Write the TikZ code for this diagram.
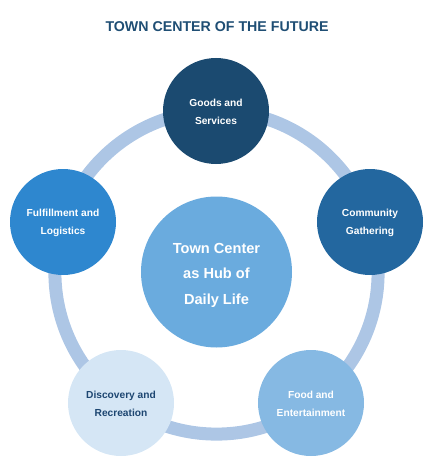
\documentclass[tikz,border=0pt]{standalone}
\usepackage{fontspec}
\setmainfont{Liberation Sans}
\definecolor{titleblue}{HTML}{1F4E74}
\definecolor{goodsc}{HTML}{1B4A70}
\definecolor{commc}{HTML}{23679F}
\definecolor{fulfc}{HTML}{2E87CF}
\definecolor{hubc}{HTML}{6AABDE}
\definecolor{foodc}{HTML}{86B9E3}
\definecolor{discc}{HTML}{D5E6F5}
\definecolor{ringc}{HTML}{ADC6E5}
\definecolor{disctext}{HTML}{1D4671}
\tikzset{
  bubble/.style={circle, minimum size=106pt, inner sep=0pt, align=center,
    text=white, font=\fontsize{10.2}{18}\selectfont\bfseries},
  bubbletext/.style={align=center, inner sep=0pt, text=white,
    font=\fontsize{10.2}{18}\selectfont\bfseries},
  hubbox/.style={circle, minimum size=151pt, inner sep=0pt, fill=hubc},
  hubtext/.style={align=center, inner sep=0pt, text=white,
    font=\fontsize{14.6}{25.5}\selectfont\bfseries},
  ringline/.style={draw=ringc, line width=13pt}
}
\begin{document}
\begin{tikzpicture}[x=1pt,y=-1pt]
\useasboundingbox (0,0) rectangle (433,468);
\node[text=titleblue, font=\fontsize{14.2}{16}\selectfont\bfseries] (title) at (217,26.5) {TOWN CENTER OF THE FUTURE};
\coordinate (rc) at (216.5,272.5);
\draw[ringline] (rc) circle (161.6pt);
\node[hubbox] (hub) at (216.5,272) {};
\node[hubtext] (hubt) at (216.5,275) {Town Center\\as Hub of\\Daily Life};
\node[bubble, fill=goodsc] (goods) at (216,111) {};
\node[bubbletext] (goodst) at (216,112) {Goods and\\Services};
\node[bubble, fill=commc] (community) at (370,222) {};
\node[bubbletext] (communityt) at (370,223) {Community\\Gathering};
\node[bubble, fill=fulfc] (fulfill) at (63,222) {};
\node[bubbletext] (fulfillt) at (63,223) {Fulfillment and\\Logistics};
\node[bubble, fill=foodc] (food) at (311,403) {};
\node[bubbletext] (foodt) at (311,404) {Food and\\Entertainment};
\node[bubble, fill=discc] (discovery) at (121,403) {};
\node[bubbletext, text=disctext] (discoveryt) at (121,404) {Discovery and\\Recreation};
\end{tikzpicture}
\end{document}
